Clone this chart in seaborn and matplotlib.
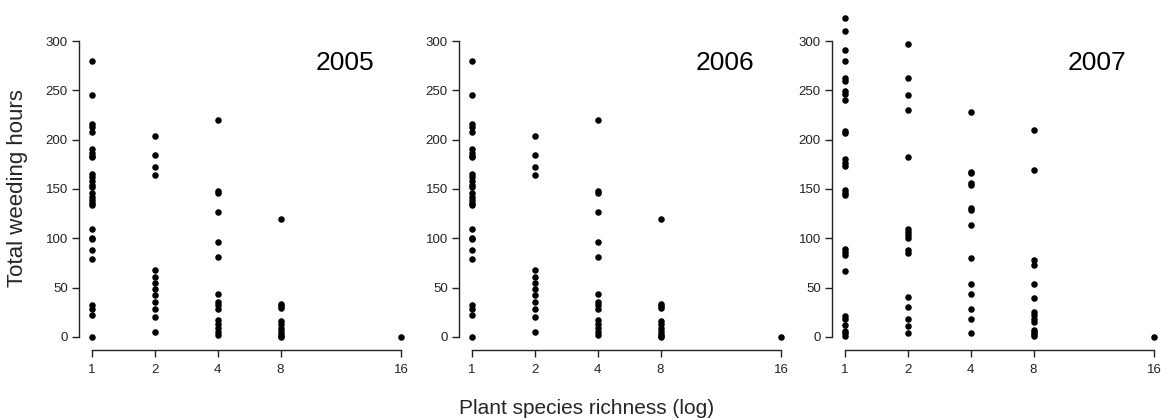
import numpy as np
import pandas as pd
import matplotlib
matplotlib.use("Agg")
import matplotlib.pyplot as plt
import seaborn as sns

# ---------- Data ----------

years = [2005, 2006, 2007]
richness_levels = [1, 2, 4, 8, 16]

hours_2005 = {
    1: [280, 245.5, 215.8, 213, 208, 191, 186.7, 183.3, 182, 165.7, 162, 158,
        154.5, 152, 146.4, 142, 138.6, 136.3, 134, 109.6, 100.8, 99, 88.6, 79,
        32, 28.7, 22, 0],
    2: [203.6, 184, 172.5, 164, 67.6, 61, 55, 49, 42.3, 35.5, 28.7, 20.3, 4.7],
    4: [220, 147.8, 146, 126.8, 96.4, 81, 43.3, 35.5, 32, 28.7, 17, 13.5, 9, 5, 2.4],
    8: [120, 33.8, 31.5, 29.4, 16, 12.8, 9, 5.7, 3.4, 1, 0],
    16: [0],
}

hours_2006 = {
    1: [280, 245.5, 215.8, 213, 208, 191, 186.7, 183.3, 182, 165.7, 162, 158,
        154.5, 152, 146.4, 142, 138.6, 136.3, 134, 109.6, 100.8, 99, 88.6, 79,
        32, 28.7, 22, 0],
    2: [203.6, 184, 172.5, 164, 67.6, 61, 55, 49, 42.3, 35.5, 28.7, 20.3, 4.7],
    4: [220, 147.8, 146, 126.8, 96.4, 81, 43.3, 35.5, 32, 28.7, 17, 13.5, 9, 5, 2.4],
    8: [120, 33.8, 31.5, 29.4, 16, 12.8, 9, 5.7, 3.4, 1, 0],
    16: [0],
}

hours_2007 = {
    1: [323.6, 310, 290.5, 279.4, 262, 259, 249, 246, 240.6, 209, 207, 180.3,
        176, 173.6, 149, 146, 144, 89, 86, 82.6, 66.4, 20.9, 18.2, 12.5, 6.4, 4, 0.7],
    2: [296.6, 262.6, 245, 230.5, 182, 109.2, 106.2, 103.5, 100, 88.3, 85.6,
        41, 30.3, 18.2, 10.8, 4],
    4: [228, 167.5, 165.8, 155.7, 154, 130.4, 128.7, 113, 80, 54, 43.8, 28.3, 18.2, 4],
    8: [209.6, 169.2, 78.2, 73, 54, 40, 25.3, 22.6, 18.2, 14.8, 7.4, 5, 3, 0.7],
    16: [0],
}

hours_by_year = {2005: hours_2005, 2006: hours_2006, 2007: hours_2007}

# axis position of each richness level (log2 units; last level is drawn further out)
x_position = {1: 0, 2: 1, 4: 2, 8: 3, 16: 4.92}

rows = []
for yr in years:
    for s, vals in hours_by_year[yr].items():
        for v in vals:
            rows.append({"year": yr, "richness": s, "hours": v})
df = pd.DataFrame(rows)
df["xpos"] = df["richness"].map(x_position)

# ---------- Plot ----------

sns.set_style("white")
plt.rcParams["font.family"] = ["Liberation Sans", "DejaVu Sans"]

W, H = 1172, 418
fig = plt.figure(figsize=(W / 100, H / 100), dpi=100)

panel_left = [79, 459, 832]
panel_w, panel_top, panel_bottom = 335, 5, 349.8

for yr, left in zip(years, panel_left):
    ax = fig.add_axes([left / W, (H - panel_bottom) / H,
                       panel_w / W, (panel_bottom - panel_top) / H])
    sub = df[df["year"] == yr]
    sns.scatterplot(data=sub, x="xpos", y="hours", ax=ax, color="black",
                    s=22, linewidth=0, legend=False)
    ax.set_xlim(-0.2, 5.12)
    ax.set_ylim(-13, 336.5)
    ax.set_xticks([x_position[s] for s in richness_levels])
    ax.set_xticklabels([str(s) for s in richness_levels])
    ax.set_yticks([0, 50, 100, 150, 200, 250, 300])
    for side in ["top", "right"]:
        ax.spines[side].set_visible(False)
    ax.spines["left"].set_bounds(0, 300)
    ax.spines["bottom"].set_bounds(0, 4.92)
    for side in ["left", "bottom"]:
        ax.spines[side].set_color("#222222")
        ax.spines[side].set_linewidth(1.0)
    ax.tick_params(axis="both", direction="out", length=5, width=1.0,
                   color="#222222", labelsize=9.5, labelcolor="#222222",
                   bottom=True, left=True)
    ax.tick_params(axis="y", pad=3)
    ax.tick_params(axis="x", pad=5)
    ax.set_xlabel("")
    ax.set_ylabel("")
    ax.grid(False)
    ax.text(0.88, 0.833, str(yr), transform=ax.transAxes, ha="right",
            va="center", fontsize=19, color="black")

fig.text(18 / W, (H - 188) / H, "Total weeding hours", rotation=90,
         ha="center", va="center", fontsize=16)
fig.text(587 / W, (H - 408) / H, "Plant species richness (log)",
         ha="center", va="center", fontsize=15)

fig.savefig("out.png", dpi=100)
